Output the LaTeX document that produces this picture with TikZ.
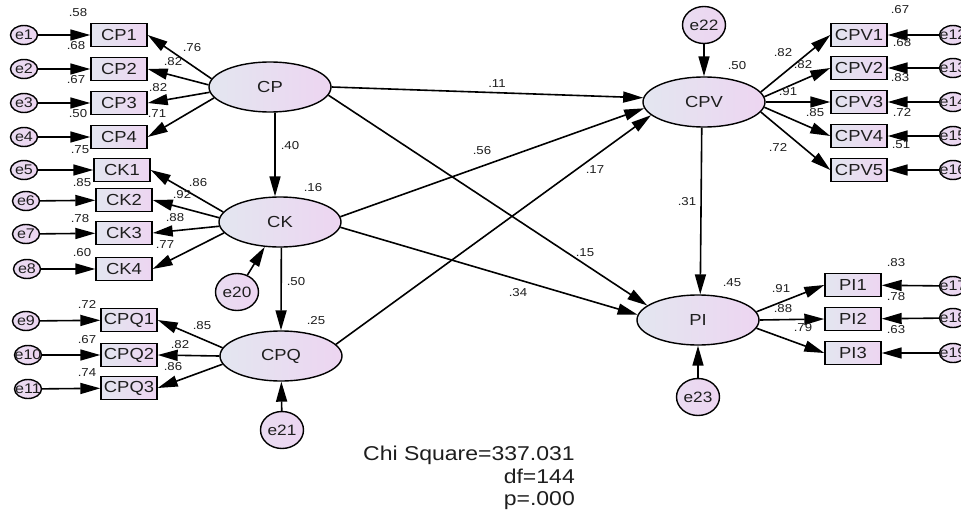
\documentclass[tikz,border=0pt]{standalone}
\usepackage{fontspec}
\setmainfont[FakeStretch=1.15]{Liberation Sans}
\usetikzlibrary{shapes.geometric,arrows.meta}

\definecolor{shadeL}{RGB}{227,230,240}
\definecolor{shadeR}{RGB}{237,213,241}
\definecolor{inktext}{RGB}{30,30,30}

\tikzset{
  obsbox/.style={draw, line width=1.4pt, rectangle, minimum width=56pt,
    minimum height=23pt, inner sep=0pt, left color=shadeL, right color=shadeR,
    text=inktext, font=\fontsize{16}{16}\selectfont},
  latent/.style={draw, line width=1.4pt, ellipse, minimum width=122pt,
    minimum height=50pt, inner sep=0pt, left color=shadeL, right color=shadeR,
    text=inktext, font=\fontsize{16}{16}\selectfont},
  errsm/.style={draw, line width=1.4pt, ellipse, minimum width=27pt,
    minimum height=19pt, inner sep=0pt, left color=shadeL!40!shadeR, right color=shadeR,
    label={[font=\fontsize{14}{14}\selectfont, text=inktext, inner sep=0pt]center:#1}},
  errbig/.style={draw, line width=1.4pt, ellipse, minimum width=43pt,
    minimum height=37pt, inner sep=0pt, left color=shadeL!40!shadeR, right color=shadeR,
    label={[font=\fontsize{15}{15}\selectfont, text=inktext, inner sep=0pt]center:#1}},
  link/.style={line width=1.6pt, -{Triangle[length=20pt,width=11pt]}},
  coef/.style={font=\fontsize{11.5}{11.5}\selectfont, text=inktext, inner sep=0pt},
  fitstat/.style={font=\fontsize{20}{20}\selectfont, text=inktext, inner sep=0pt, anchor=base east}
}

\begin{document}
\begin{tikzpicture}[x=1pt, y=-1pt]
\useasboundingbox (0,0) rectangle (961,514);
\fill[white] (0,0) rectangle (961,514);
\clip (0,0) rectangle (961,514);

% latent variables
\node[latent] (CP)  at (270,87)  {CP};
\node[latent] (CK)  at (280,222) {CK};
\node[latent] (CPQ) at (281,356) {CPQ};
\node[latent] (CPV) at (704,102) {CPV};
\node[latent] (PI)  at (698,320) {PI};

% indicators
\node[obsbox] (CP1) at (119,35)  {CP1};
\node[obsbox] (CP2) at (119,69)  {CP2};
\node[obsbox] (CP3) at (119,103) {CP3};
\node[obsbox] (CP4) at (119,137) {CP4};
\node[obsbox] (CK1) at (122,170) {CK1};
\node[obsbox] (CK2) at (124,200) {CK2};
\node[obsbox] (CK3) at (124,233) {CK3};
\node[obsbox] (CK4) at (124,269) {CK4};
\node[obsbox] (CPQ1) at (129,320) {CPQ1};
\node[obsbox] (CPQ2) at (129,355) {CPQ2};
\node[obsbox] (CPQ3) at (129,388) {CPQ3};
\node[obsbox] (CPV1) at (859,35)  {CPV1};
\node[obsbox] (CPV2) at (859,68)  {CPV2};
\node[obsbox] (CPV3) at (859,102) {CPV3};
\node[obsbox] (CPV4) at (859,136) {CPV4};
\node[obsbox] (CPV5) at (859,170) {CPV5};
\node[obsbox] (PI1) at (853,285) {PI1};
\node[obsbox] (PI2) at (853,319) {PI2};
\node[obsbox] (PI3) at (853,353) {PI3};

% measurement errors
\node[errsm=e1] (e1) at (24,35) {};
\node[errsm=e2] (e2) at (24,69) {};
\node[errsm=e3] (e3) at (24,103) {};
\node[errsm=e4] (e4) at (24,137) {};
\node[errsm=e5] (e5) at (24,170) {};
\node[errsm=e6] (e6) at (26,201) {};
\node[errsm=e7] (e7) at (26,234) {};
\node[errsm=e8] (e8) at (27,269) {};
\node[errsm=e9] (e9) at (26,321) {};
\node[errsm=e10] (e10) at (28,355) {};
\node[errsm=e11] (e11) at (28,389) {};
\node[errsm=e12] (e12) at (953,35) {};
\node[errsm=e13] (e13) at (953,68) {};
\node[errsm=e14] (e14) at (953,102) {};
\node[errsm=e15] (e15) at (953,136) {};
\node[errsm=e16] (e16) at (953,170) {};
\node[errsm=e17] (e17) at (953,286) {};
\node[errsm=e18] (e18) at (953,318) {};
\node[errsm=e19] (e19) at (953,353) {};

% disturbances
\node[errbig=e20] (e20) at (237,292) {};
\node[errbig=e21] (e21) at (282,430) {};
\node[errbig=e22] (e22) at (704,25) {};
\node[errbig=e23] (e23) at (698,397) {};

% error -> indicator
\foreach \e/\b in {e1/CP1,e2/CP2,e3/CP3,e4/CP4,e5/CK1,e6/CK2,e7/CK3,e8/CK4,
                   e9/CPQ1,e10/CPQ2,e11/CPQ3,e12/CPV1,e13/CPV2,e14/CPV3,
                   e15/CPV4,e16/CPV5,e17/PI1,e18/PI2,e19/PI3}
  \draw[link] (\e) -- (\b);

% loadings
\draw[link] (CP.172) -- (CP1.east);
\draw[link] (CP.178) -- (CP2.east);
\draw[link] (CP.185) -- (CP3.east);
\draw[link] (CP.191) -- (CP4.east);
\draw[link] (CK.170) -- (CK1.east);
\draw[link] (CK.176) -- (CK2.east);
\draw[link] (CK.184) -- (CK3.east);
\draw[link] (CK.191) -- (CK4.east);
\draw[link] (CPQ.172) -- (CPQ1.east);
\draw[link] (CPQ.180) -- (CPQ2.east);
\draw[link] (CPQ.188) -- (CPQ3.east);
\draw[link] (CPV.10) -- (CPV1.west);
\draw[link] (CPV.5) -- (CPV2.west);
\draw[link] (CPV.0) -- (CPV3.west);
\draw[link] (CPV.355) -- (CPV4.west);
\draw[link] (CPV.350) -- (CPV5.west);
\draw[link] (PI.8) -- (PI1.west);
\draw[link] (PI.0) -- (PI2.west);
\draw[link] (PI.352) -- (PI3.west);

% structural paths
\draw[link] (CP.281) -- (CK.101);
\draw[link] (CK.273) -- (CPQ.north);
\draw[link] (CP.0) -- (CPV.176);
\draw[link] (CP.352) -- (PI.164);
\draw[link] (CK.5) -- (CPV.186);
\draw[link] (CK.355) -- (PI.175);
\draw[link] (CPQ.12) -- (CPV.194);
\draw[link] (CPV.265) -- (PI.85);
\draw[link] (e20) -- (CK);
\draw[link] (e21) -- (CPQ);
\draw[link] (e22) -- (CPV);
\draw[link] (e23) -- (PI);

% squared multiple correlations
\node[coef] (r1) at (78,13) {.58};
\node[coef] (r2) at (76,46) {.68};
\node[coef] (r3) at (76,80) {.67};
\node[coef] (r4) at (78,114) {.50};
\node[coef] (r5) at (80,150) {.75};
\node[coef] (r6) at (82,183) {.85};
\node[coef] (r7) at (80,219) {.78};
\node[coef] (r8) at (82,253) {.60};
\node[coef] (r9) at (87,304) {.72};
\node[coef] (r10) at (87,340) {.67};
\node[coef] (r11) at (87,373) {.74};
\node[coef] (r12) at (900,10) {.67};
\node[coef] (r13) at (902,43) {.68};
\node[coef] (r14) at (900,78) {.83};
\node[coef] (r15) at (902,112) {.72};
\node[coef] (r16) at (901,145) {.51};
\node[coef] (r17) at (896,263) {.83};
\node[coef] (r18) at (896,297) {.78};
\node[coef] (r19) at (896,330) {.63};
\node[coef] (rCK) at (313,188) {.16};
\node[coef] (rCPQ) at (316,321) {.25};
\node[coef] (rCPV) at (737,66) {.50};
\node[coef] (rPI) at (732,283) {.45};

% standardized loadings
\node[coef] (w1) at (192,48) {.76};
\node[coef] (w2) at (173,62) {.82};
\node[coef] (w3) at (158,88) {.82};
\node[coef] (w4) at (157,114) {.71};
\node[coef] (w5) at (198,183) {.86};
\node[coef] (w6) at (182,195) {.92};
\node[coef] (w7) at (175,218) {.88};
\node[coef] (w8) at (165,245) {.77};
\node[coef] (w9) at (202,326) {.85};
\node[coef] (w10) at (180,345) {.82};
\node[coef] (w11) at (173,367) {.86};
\node[coef] (w12) at (783,53) {.82};
\node[coef] (w13) at (803,65) {.82};
\node[coef] (w14) at (788,92) {.91};
\node[coef] (w15) at (815,113) {.85};
\node[coef] (w16) at (778,147) {.72};
\node[coef] (w17) at (781,289) {.91};
\node[coef] (w18) at (783,309) {.88};
\node[coef] (w19) at (803,328) {.79};

% structural coefficients
\node[coef] (b1) at (290,146) {.40};
\node[coef] (b2) at (296,282) {.50};
\node[coef] (b3) at (497,84) {.11};
\node[coef] (b4) at (482,151) {.56};
\node[coef] (b5) at (595,170) {.17};
\node[coef] (b6) at (585,253) {.15};
\node[coef] (b7) at (518,293) {.34};
\node[coef] (b8) at (687,202) {.31};

% fit statistics
\node[fitstat] (chi) at (575,460) {Chi Square=337.031};
\node[fitstat] (df) at (575,483) {df=144};
\node[fitstat] (pv) at (575,505) {p=.000};
\end{tikzpicture}
\end{document}
